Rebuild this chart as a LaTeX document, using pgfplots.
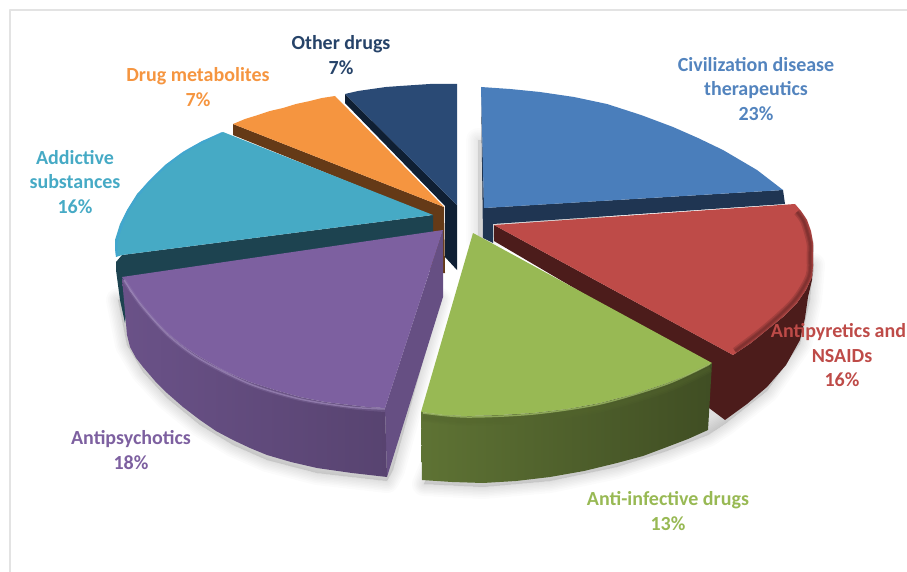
\documentclass[border=0pt]{standalone}
\usepackage{pgfplots}
\pgfplotsset{compat=1.18}
\usepackage{fontspec}
\setmainfont{Carlito}

\definecolor{cblue}{HTML}{4A7EBB}
\definecolor{cblues}{HTML}{1F3552}
\definecolor{cred}{HTML}{BE4B48}
\definecolor{creds}{HTML}{4C1C1B}
\definecolor{cgreen}{HTML}{98B954}
\definecolor{cpurple}{HTML}{7D60A0}
\definecolor{cteal}{HTML}{46AAC5}
\definecolor{cteals}{HTML}{1D4350}
\definecolor{corange}{HTML}{F59540}
\definecolor{coranges}{HTML}{653A17}
\definecolor{cnavy}{HTML}{2A4A75}
\definecolor{cnavys}{HTML}{0F1F33}

\tikzset{
  face/.style={draw=none, fill=#1},
  rim/.style={smooth, draw=#1, fill=none},
  lab/.style={font=\bfseries\fontsize{20}{24.3}\selectfont, align=center, text=#1, inner sep=0pt},
}

% all outlines are in image pixels
\pgfplotstableread{
x y
118 300
127 345
143 372
167 398
200 425
233 445
267 460
317 473
387 481
393 470
440 300
300 290
}\shadowpurple

\pgfplotstableread{
x y
424 484
483 487
550 481
617 467
667 451
708 435
725 424
767 391
800 344
810 300
813 265
700 300
480 350
}\shadowgreen

\pgfplotstableread{
x y
478 140
478 240
600 220
600 150
}\shadowblue

\begin{document}
\begin{tikzpicture}
\begin{axis}[
  width=907pt, height=572pt, scale only axis,
  xmin=0, xmax=907, ymin=0, ymax=572, y dir=reverse,
  hide axis,
  every axis plot/.append style={no markers, line join=round},
]
% hide axis draws nothing, so keep the whole frame in the bounding box
\path (axis cs:0,0) rectangle (axis cs:907,572);

% frame
\addplot[draw=black!11, line width=1.5pt] coordinates {(10,572) (10,10) (907,10)};

% soft shadows
\pgfplotsinvokeforeach{2,5,8,11,14,17,20,24}{
  \addplot[draw=black, fill=black, opacity=0.016, line width=#1pt] table {\shadowpurple} -- cycle;
  \addplot[draw=black, fill=black, opacity=0.016, line width=#1pt] table {\shadowgreen} -- cycle;
  \addplot[draw=black, fill=black, opacity=0.012, line width=#1pt] table {\shadowblue} -- cycle;
}

% other drugs 7%
\addplot[face=cnavys] coordinates {(345,94)(457,205)(457,270)(445,257)(445,206)(345,103)} -- cycle;
\addplot[face=cnavy] coordinates {(457,205)(345,94)(358,91)(372,89)(386,87)(400,86)(415,85)(430,84)(443,84)(457,84)} -- cycle;

% civilization disease therapeutics 23%
\addplot[face=cblues] coordinates {(481,87)(484,208)(783,190)(785,204)(493,224)(493,243)(483,238)} -- cycle;
\addplot[face=cblue] coordinates {(484,208)(481,87)(510,89)(540,92)(574,97)(607,104)(641,115)(673,127)(698,138)(723,150)(740,160)(757,170)(770,180)(783,190)} -- cycle;

% drug metabolites 7%
\addplot[face=coranges] coordinates {(233,124)(444,207)(445,273)(430,273)(430,215)(233,135)} -- cycle;
\addplot[face=corange] coordinates {(444,207)(233,124)(245,119)(258,115)(270,111)(283,108)(296,104)(310,101)(322,98)(335,96)} -- cycle;

% addictive substances 16%
\addplot[face=cteals] coordinates {(122,255)(433,215)(433,240)(130,285)(125,323)(120,300)(116,270)(116,262)} -- cycle;
\addplot[face=cteal] coordinates {(433,215)(223,132)(202,141)(183,152)(165,165)(150,180)(137,194)(127,210)(120,224)(115,240)(115,249)(116,257)(122,255)} -- cycle;
\addplot[rim=cyan!45!cteal, line width=2pt, opacity=0.7] coordinates {(222,133)(183,153)(150,181)(128,211)(117,240)(117,256)};

% antipsychotics 18%
\addplot[draw=none, fill=cpurple!82!black] coordinates {(443,230)(385,408)(387,477)(443,297)} -- cycle;
\addplot[draw=none, left color=cpurple!85!black, middle color=cpurple!62!black, right color=cpurple!70!black] coordinates {(122,278)(130,291)(140,303)(153,319)(167,333)(183,346)(200,357)(224,371)(250,382)(275,390)(300,397)(325,402)(350,405)(367,407)(385,408)(387,477)(352,473)(317,468)(291,462)(267,455)(250,448)(233,440)(216,431)(200,420)(183,407)(167,393)(155,381)(143,367)(136,358)(130,347)(127,335)} -- cycle;
\addplot[face=cpurple] coordinates {(443,230)(122,277)(130,291)(140,303)(153,319)(167,333)(183,346)(200,357)(224,371)(250,382)(275,390)(300,397)(325,402)(350,405)(367,407)(385,408)} -- cycle;
\addplot[rim=cpurple!80!white, line width=4pt, opacity=0.25] coordinates {(124,280)(141,305)(168,335)(200,359)(250,384)(300,399)(350,407)(385,410)};
\addplot[rim=cpurple!75!white, line width=1.5pt, opacity=0.7] coordinates {(124,280)(141,305)(168,335)(200,359)(250,384)(300,399)(350,407)(385,409)};

% antipyretics and NSAIDs 16%
\addplot[face=creds] coordinates {(494,225)(733,355)(751,343)(767,330)(783,317)(797,303)(806,290)(812,277)(813,263)(812,280)(808,297)(805,318)(800,340)(786,365)(767,387)(747,404)(725,420)(705,405)(705,365)(494,241)} -- cycle;
\addplot[face=cred] coordinates {(494,225)(795,204)(801,211)(807,220)(811,231)(813,243)(813,256)(813,266)(812,277)(806,290)(797,303)(783,317)(767,330)(751,343)(733,355)} -- cycle;
\pgfplotsinvokeforeach{7,4,2}{
  \addplot[rim=creds, line width=#1pt, opacity=0.22] coordinates {(797,212)(804,222)(810,243)(810,256)(809,276)(794,301)(765,328)(735,351)};
}

% anti-infective drugs 13%
\addplot[draw=none, left color=cgreen!62!black, middle color=cgreen!42!black, right color=cgreen!42!black] coordinates {(421,412)(444,415)(467,416)(500,415)(533,413)(567,409)(600,403)(634,394)(667,383)(690,374)(712,363)(708,430)(688,439)(667,447)(643,456)(617,463)(584,471)(550,477)(516,481)(483,483)(452,482)(422,480)} -- cycle;
\addplot[face=cgreen] coordinates {(473,233)(421,412)(444,415)(467,416)(500,415)(533,413)(567,409)(600,403)(634,394)(667,383)(690,374)(712,363)} -- cycle;
\pgfplotsinvokeforeach{9,6,3}{
  \addplot[rim=cgreen!55!black, line width=#1pt, opacity=0.2] coordinates {(423,417)(467,421)(533,418)(600,408)(667,388)(710,368)};
}
\addplot[rim=cgreen!85!white, line width=1.5pt, opacity=0.7] coordinates {(423,413)(467,417)(533,414)(600,404)(667,384)(710,364)};

% labels
\node[lab=cblue!95!white] at (axis cs:756,89) {Civilization disease\\therapeutics\\23\%};
\node[lab=cred] at (axis cs:838.5,332) {Antipyretics and};
\node[lab=cred] at (axis cs:842,368) {NSAIDs\\16\%};
\node[lab=cgreen] at (axis cs:668,511) {Anti-infective drugs\\13\%};
\node[lab=cpurple] at (axis cs:131,450) {Antipsychotics\\18\%};
\node[lab=cteal] at (axis cs:75,182) {Addictive\\substances\\16\%};
\node[lab=corange] at (axis cs:198,87) {Drug metabolites\\7\%};
\node[lab=cnavy!90!black] at (axis cs:341,55) {Other drugs\\7\%};
\end{axis}
\end{tikzpicture}
\end{document}
